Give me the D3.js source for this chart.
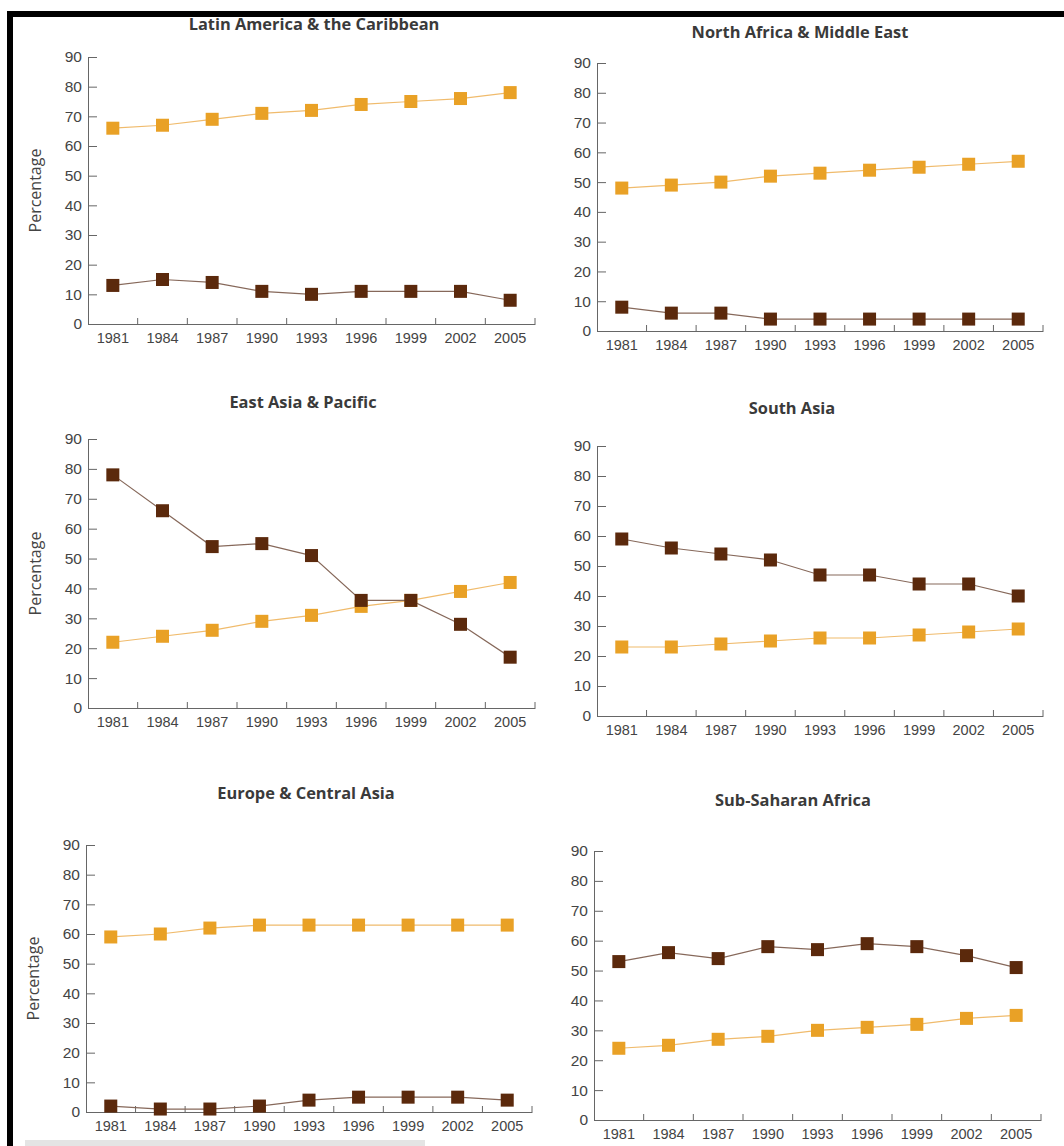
<!DOCTYPE html>
<head>
  <meta charset="utf-8">
  <style>
    body { margin: 0; background: #fff; }
    svg { display: block; font-family: "Open Sans", sans-serif; }
    .tick text { fill: #444; }
    .title { font-weight: 700; fill: #3a3a3a; font-size: 16.4px; }
  </style>
</head>
<body>
<script src="https://cdnjs.cloudflare.com/ajax/libs/d3/7.8.5/d3.min.js"></script>
<script>

var years = ["1981", "1984", "1987", "1990", "1993", "1996", "1999", "2002", "2005"];
var yTicks = [0, 10, 20, 30, 40, 50, 60, 70, 80, 90];

var regions = ["Latin America & the Caribbean", "North Africa & Middle East",
               "East Asia & Pacific", "South Asia",
               "Europe & Central Asia", "Sub-Saharan Africa"];

// orange series, one row per region
var lightValues = [
  [66, 67, 69, 71, 72, 74, 75, 76, 78],
  [48, 49, 50, 52, 53, 54, 55, 56, 57],
  [22, 24, 26, 29, 31, 34, 36, 39, 42],
  [23, 23, 24, 25, 26, 26, 27, 28, 29],
  [59, 60, 62, 63, 63, 63, 63, 63, 63],
  [24, 25, 27, 28, 30, 31, 32, 34, 35]
];

// dark brown series
var darkValues = [
  [13, 15, 14, 11, 10, 11, 11, 11, 8],
  [8, 6, 6, 4, 4, 4, 4, 4, 4],
  [78, 66, 54, 55, 51, 36, 36, 28, 17],
  [59, 56, 54, 52, 47, 47, 44, 44, 40],
  [2, 1, 1, 2, 4, 5, 5, 5, 4],
  [53, 56, 54, 58, 57, 59, 58, 55, 51]
];

// panel placement on the page
var panels = [
  {left: 88,  right: 535,  top: 57,  bottom: 324,  titleX: 314, titleY: 24,  yLabel: true},
  {left: 597, right: 1043, top: 63,  bottom: 331,  titleX: 800, titleY: 32,  yLabel: false},
  {left: 88,  right: 535,  top: 439, bottom: 708,  titleX: 303, titleY: 402, yLabel: true},
  {left: 597, right: 1043, top: 446, bottom: 716,  titleX: 792, titleY: 408, yLabel: false},
  {left: 86,  right: 532,  top: 845, bottom: 1112, titleX: 306, titleY: 793, yLabel: true},
  {left: 594, right: 1041, top: 851, bottom: 1120, titleX: 793, titleY: 800, yLabel: false}
];

var lightColor = "#e9a126", lightLine = "#f0bb6c";
var darkColor = "#5b290c", darkLine = "#86685a";
var axisColor = "#666";
var markerSize = 13;

var svg = d3.select("body").append("svg")
    .attr("width", 1064)
    .attr("height", 1146);

// page frame (black top and left edges, grey strip at the bottom)
svg.append("rect").attr("x", 7).attr("y", 11).attr("width", 1057).attr("height", 6).attr("fill", "#000");
svg.append("rect").attr("x", 7).attr("y", 11).attr("width", 6).attr("height", 1135).attr("fill", "#000");
svg.append("rect").attr("x", 25).attr("y", 1140).attr("width", 400).attr("height", 6).attr("fill", "#e4e4e4");

panels.forEach(function(p, i) {
  var x = d3.scaleBand().domain(years).range([p.left, p.right]).padding(0);
  var y = d3.scaleLinear().domain([0, 90]).range([p.bottom, p.top]);
  var g = svg.append("g");

  g.append("text")
      .attr("class", "title")
      .attr("x", p.titleX)
      .attr("y", p.titleY)
      .attr("dy", "0.35em")
      .attr("text-anchor", "middle")
      .text(regions[i]);

  // y axis, ticks pointing inward
  var yAxis = d3.axisLeft(y).tickValues(yTicks).tickSizeInner(-9).tickSizeOuter(0).tickPadding(6);
  var ya = g.append("g")
      .attr("transform", "translate(" + p.left + ",0)")
      .call(yAxis);
  ya.selectAll("path, line").attr("stroke", axisColor);
  ya.selectAll("text").style("font-size", "15.5px");

  // x axis: labels in band centres, ticks on band edges pointing up
  var xAxis = d3.axisBottom(x).tickSize(0).tickPadding(9).tickSizeOuter(0);
  var xa = g.append("g")
      .attr("transform", "translate(0," + p.bottom + ")")
      .call(xAxis);
  xa.select(".domain").attr("stroke", axisColor);
  xa.selectAll("text").style("font-size", "14.5px");

  g.selectAll(".edge")
    .data(years)
    .enter().append("line")
      .attr("x1", function(d) { return x(d) + x.bandwidth(); })
      .attr("x2", function(d) { return x(d) + x.bandwidth(); })
      .attr("y1", p.bottom)
      .attr("y2", p.bottom - 6)
      .attr("stroke", axisColor);

  if (p.yLabel) {
    g.append("text")
        .attr("transform", "translate(" + (p.left - 47) + "," + ((p.top + p.bottom) / 2) + ") rotate(-90)")
        .attr("text-anchor", "middle")
        .style("font-size", "16px")
        .style("fill", "#444")
        .text("Percentage");
  }

  var line = d3.line()
      .x(function(d, j) { return x(years[j]) + x.bandwidth() / 2; })
      .y(function(d) { return y(d); });

  var series = [
    {values: lightValues[i], fill: lightColor, stroke: lightLine},
    {values: darkValues[i], fill: darkColor, stroke: darkLine}
  ];

  series.forEach(function(s) {
    g.append("path")
        .attr("d", line(s.values))
        .attr("fill", "none")
        .attr("stroke", s.stroke)
        .attr("stroke-width", 1.2);

    g.selectAll(null)
      .data(s.values)
      .enter().append("rect")
        .attr("x", function(d, j) { return x(years[j]) + x.bandwidth() / 2 - markerSize / 2; })
        .attr("y", function(d) { return y(d) - markerSize / 2; })
        .attr("width", markerSize)
        .attr("height", markerSize)
        .attr("fill", s.fill);
  });
});

</script>
</body>
